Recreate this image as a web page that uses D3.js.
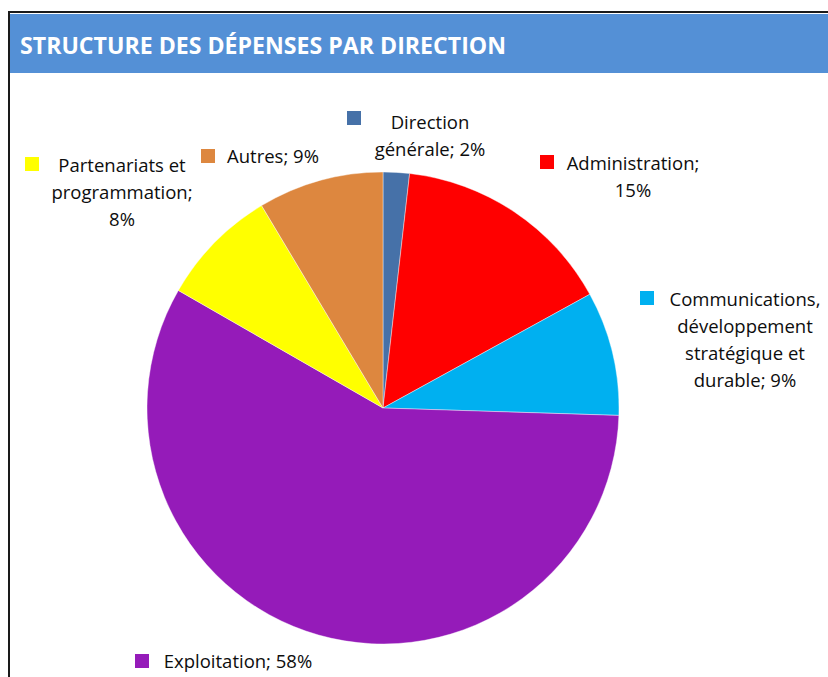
<!DOCTYPE html>
<html><head><meta charset="utf-8">
<script src="https://cdn.jsdelivr.net/npm/d3@7"></script>
<style>html,body{margin:0;padding:0;background:#fff;}svg{display:block;}</style>
</head><body>
<svg id="chart" width="828" height="677"></svg>
<script>
const title = "STRUCTURE DES DÉPENSES PAR DIRECTION";
const categories = ["Direction générale", "Administration", "Communications, développement stratégique et durable", "Exploitation", "Partenariats et programmation", "Autres"];
const values = [1.8, 15.2, 8.5, 57.8, 8.1, 8.6];
const percentLabels = ["2%", "15%", "9%", "58%", "8%", "9%"];
const labelLines = [
  ["Direction", "générale; 2%"],
  ["Administration;", "15%"],
  ["Communications,", "développement", "stratégique et", "durable; 9%"],
  ["Exploitation; 58%"],
  ["Partenariats et", "programmation;", "8%"],
  ["Autres; 9%"]
];
const colors = ["#4671A8", "#FF0000", "#00B0F0", "#951BB9", "#FFFF00", "#DD873F"];

// layout (label block anchors: center x of text, first baseline, key square position)
const labelLayout = [
  {cx: 430, y: 129, kx: 347, ky: 111},
  {cx: 633, y: 170, kx: 540, ky: 155},
  {cx: 745, y: 306, kx: 640, ky: 291},
  {cx: 238, y: 668, kx: 135, ky: 654},
  {cx: 122, y: 172, kx: 25, ky: 157},
  {cx: 273, y: 163, kx: 201, ky: 149}
];

const svg = d3.select("#chart");
const W = 828, H = 677;

// frame
svg.append("rect").attr("x", 9).attr("y", 12).attr("width", W + 10).attr("height", H + 10)
  .attr("fill", "#fff").attr("stroke", "#1a1a1a").attr("stroke-width", 2);
svg.append("rect").attr("x", 10).attr("y", 14).attr("width", W - 10).attr("height", 59)
  .attr("fill", "#5490D6");
svg.append("text").attr("x", 20).attr("y", 54)
  .attr("font-family", "'Open Sans', 'Noto Sans', sans-serif").attr("font-weight", 700)
  .attr("font-size", 23).attr("fill", "#fff")
  .attr("textLength", 486).attr("lengthAdjust", "spacingAndGlyphs")
  .text(title);

const cx = 383, cy = 408, r = 236;
const pie = d3.pie().sort(null).value(d => d)(values);
const arc = d3.arc().innerRadius(0).outerRadius(r);
const g = svg.append("g").attr("transform", `translate(${cx},${cy})`);
g.selectAll("path").data(pie).join("path")
  .attr("d", arc)
  .attr("fill", (d, i) => colors[i])
  .attr("stroke", "#ffffff").attr("stroke-opacity", 0.5).attr("stroke-width", 0.8);

const lh = 27;
const labels = svg.append("g").attr("font-family", "'Open Sans', 'Noto Sans', sans-serif")
  .attr("font-size", 18.5).attr("fill", "#0d0d0d");
categories.forEach((c, i) => {
  const L = labelLayout[i];
  labels.append("rect").attr("x", L.kx).attr("y", L.ky).attr("width", 14).attr("height", 14)
    .attr("fill", colors[i]);
  labelLines[i].forEach((t, j) => {
    labels.append("text").attr("x", L.cx).attr("y", L.y + j * lh)
      .attr("text-anchor", "middle").text(t);
  });
});
</script>
</body></html>
